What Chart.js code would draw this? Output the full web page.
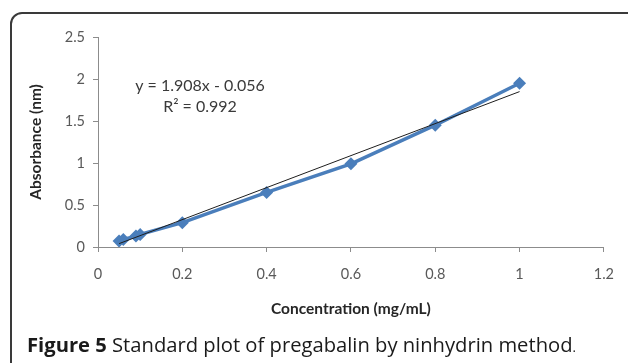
<!DOCTYPE html>
<html>
<head>
<meta charset="utf-8">
<script src="https://cdn.jsdelivr.net/npm/chart.js@4/dist/chart.umd.min.js"></script>
<style>
  html, body { margin: 0; padding: 0; background: #fff; }
  body { width: 628px; height: 363px; position: relative; overflow: hidden; }
  #frame {
    position: absolute; left: 10px; top: 12px; width: 640px; height: 400px;
    border: 2px solid #3a3a3a; border-top-left-radius: 12px; box-sizing: border-box;
  }
  #wrap { position: absolute; left: 0; top: 0; width: 628px; height: 363px; }
  #caption {
    position: absolute; left: 27px; top: 330px; line-height: 28px; white-space: nowrap;
    font-family: "Open Sans", sans-serif; font-size: 20.2px; color: #1a1a1a;
  }
  #caption b { font-weight: 700; }
  #caption .dot { font-size: 13px; }
</style>
</head>
<body>
<div id="frame"></div>
<div id="wrap"><canvas id="chart"></canvas></div>
<div id="caption"><b>Figure 5</b> Standard plot of pregabalin by ninhydrin method<span class="dot">.</span></div>
<script>
// concentration (mg/mL) vs absorbance
var concentration = [0.05, 0.06, 0.09, 0.1, 0.2, 0.4, 0.6, 0.8, 1.0];
var absorbance = [0.07, 0.09, 0.13, 0.15, 0.29, 0.65, 0.99, 1.45, 1.95];

// linear trendline end points
var trendX = [0.05, 1.0];
var trendY = [0.04, 1.85];

var xTicks = [0, 0.2, 0.4, 0.6, 0.8, 1, 1.2];
var yTicks = [0, 0.5, 1, 1.5, 2, 2.5];

var equationLines = ['y = 1.908x - 0.056', 'R\u00b2 = 0.992'];

var pts = concentration.map(function (c, i) { return { x: c, y: absorbance[i] }; });
var trendPts = trendX.map(function (c, i) { return { x: c, y: trendY[i] }; });

var tickFont = { family: 'Lato', size: 14.5 };
var axisColor = '#8c8c8c';

// equation text near the upper left of the plot
var equationPlugin = {
  id: 'equation',
  afterDatasetsDraw: function (chart) {
    var ctx = chart.ctx;
    var x = chart.scales.x.getPixelForValue(0.242);
    var y = chart.scales.y.getPixelForValue(1.92);
    ctx.save();
    ctx.font = '16px Lato';
    ctx.fillStyle = '#3a3a3a';
    ctx.textAlign = 'center';
    ctx.textBaseline = 'middle';
    ctx.fillText(equationLines[0], x, y);
    ctx.fillText(equationLines[1], x, y + 21);
    ctx.restore();
  }
};

new Chart(document.getElementById('chart'), {
  type: 'scatter',
  data: {
    datasets: [
      {
        label: 'Linear',
        data: trendPts,
        showLine: true,
        borderColor: '#1e1e1e',
        borderWidth: 1,
        pointRadius: 0,
        order: 0
      },
      {
        label: 'Absorbance',
        data: pts,
        showLine: true,
        borderColor: '#4a7ebb',
        backgroundColor: '#4a7ebb',
        borderWidth: 3.5,
        pointStyle: 'rectRot',
        pointRadius: 6.5,
        pointBorderWidth: 0,
        order: 1
      }
    ]
  },
  options: {
    responsive: true,
    maintainAspectRatio: false,
    animation: false,
    layout: { padding: { left: 27, right: 19, top: 37, bottom: 45 } },
    plugins: { legend: { display: false }, tooltip: { enabled: false } },
    scales: {
      x: {
        type: 'linear',
        min: 0, max: 1.2,
        afterFit: function (s) { s.height = 71; },
        afterBuildTicks: function (s) { s.ticks = xTicks.map(function (v) { return { value: v }; }); },
        ticks: {
          font: tickFont, color: '#595959', padding: 14,
          callback: function (v) { return String(Number(v.toFixed(1))); }
        },
        grid: { drawOnChartArea: false, drawTicks: true, tickLength: 5, color: axisColor },
        border: { color: axisColor, width: 1 },
        title: {
          display: true, text: 'Concentration (mg/mL)', color: '#262626',
          font: { family: 'Lato', size: 15.5, weight: 'bold' }, padding: 0
        }
      },
      y: {
        type: 'linear',
        min: 0, max: 2.5,
        afterFit: function (s) { s.width = 71; },
        afterBuildTicks: function (s) { s.ticks = yTicks.map(function (v) { return { value: v }; }); },
        ticks: {
          font: tickFont, color: '#595959', padding: 8,
          callback: function (v) { return String(Number(v.toFixed(1))); }
        },
        grid: { drawOnChartArea: false, drawTicks: true, tickLength: 5, color: axisColor },
        border: { color: axisColor, width: 1 },
        title: {
          display: true, text: 'Absorbance (nm)', color: '#262626',
          font: { family: 'Lato', size: 15.5, weight: 'bold' }, padding: 0
        }
      }
    }
  },
  plugins: [equationPlugin]
});
</script>
</body>
</html>
